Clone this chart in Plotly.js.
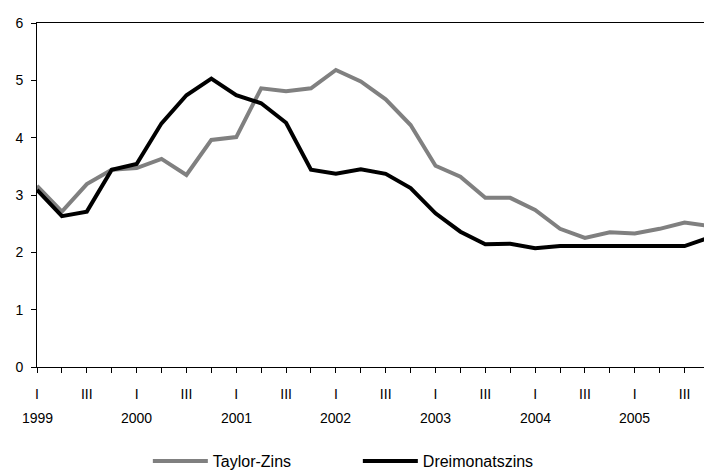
<!DOCTYPE html>
<html><head><meta charset="utf-8">
<script src="https://cdn.plot.ly/plotly-3.0.1.min.js"></script>
<style>html,body{margin:0;padding:0;background:#fff}#chart{width:704px;height:470px}</style>
</head><body><div id="chart"></div>
<script>
const years = ['1999','2000','2001','2002','2003','2004','2005'];
const quarterNames = ['I','II','III','IV'];
const taylorZins = [3.16,2.71,3.19,3.44,3.47,3.63,3.35,3.96,4.01,4.86,4.81,4.86,5.18,4.98,4.67,4.22,3.51,3.32,2.95,2.95,2.74,2.41,2.25,2.35,2.33,2.41,2.52,2.46];
const dreimonatszins = [3.09,2.63,2.71,3.44,3.54,4.25,4.74,5.03,4.74,4.60,4.26,3.44,3.37,3.45,3.37,3.12,2.68,2.36,2.14,2.15,2.07,2.11,2.11,2.11,2.11,2.11,2.11,2.26];

const idx = taylorZins.map((_, i) => i);
const tickText = idx.map(i => { const q = i % 4; return (q === 0 || q === 2) ? quarterNames[q] : ''; });
const font = {family: 'Liberation Sans, Arial, sans-serif', size: 14, color: '#000'};
const legendFont = {family: 'Liberation Sans, Arial, sans-serif', size: 16, color: '#000'};

const traces = [
  {x: idx, y: taylorZins, name: 'Taylor-Zins', type: 'scatter', mode: 'lines', line: {color: '#808080', width: 4}},
  {x: idx, y: dreimonatszins, name: 'Dreimonatszins', type: 'scatter', mode: 'lines', line: {color: '#000000', width: 4}}
];

const annotations = years.map((y, k) => ({
  x: k * 4, y: -0.1485, xref: 'x', yref: 'paper', text: y, showarrow: false,
  xanchor: 'center', yanchor: 'middle', font: font
}));

const layout = {
  width: 704, height: 470,
  margin: {l: 37, r: 0, t: 23, b: 103},
  paper_bgcolor: '#fff', plot_bgcolor: '#fff',
  font: font,
  showlegend: true,
  legend: {orientation: 'h', xref: 'container', yref: 'container', x: 0.21, xanchor: 'left',
           y: 0.019, yanchor: 'middle', font: legendFont,
           itemwidth: 55, entrywidth: 140, traceorder: 'normal'},
  xaxis: {
    range: [0, 26.78], tickvals: idx, ticktext: tickText, ticks: 'outside', ticklen: 5, tickcolor: '#000',
    showline: true, linecolor: '#000', linewidth: 1, mirror: true, showgrid: false, zeroline: false,
    tickangle: 0, ticklabelstandoff: 9, automargin: false, fixedrange: true
  },
  yaxis: {
    range: [0, 6], tickvals: [0,1,2,3,4,5,6], ticks: 'outside', ticklen: 5, tickcolor: '#000',
    showline: true, linecolor: '#000', linewidth: 1, showgrid: false, zeroline: false,
    ticklabelstandoff: 5, automargin: false, fixedrange: true
  },
  annotations: annotations
};
Plotly.newPlot('chart', traces, layout, {displayModeBar: false, staticPlot: true});
</script></body></html>
